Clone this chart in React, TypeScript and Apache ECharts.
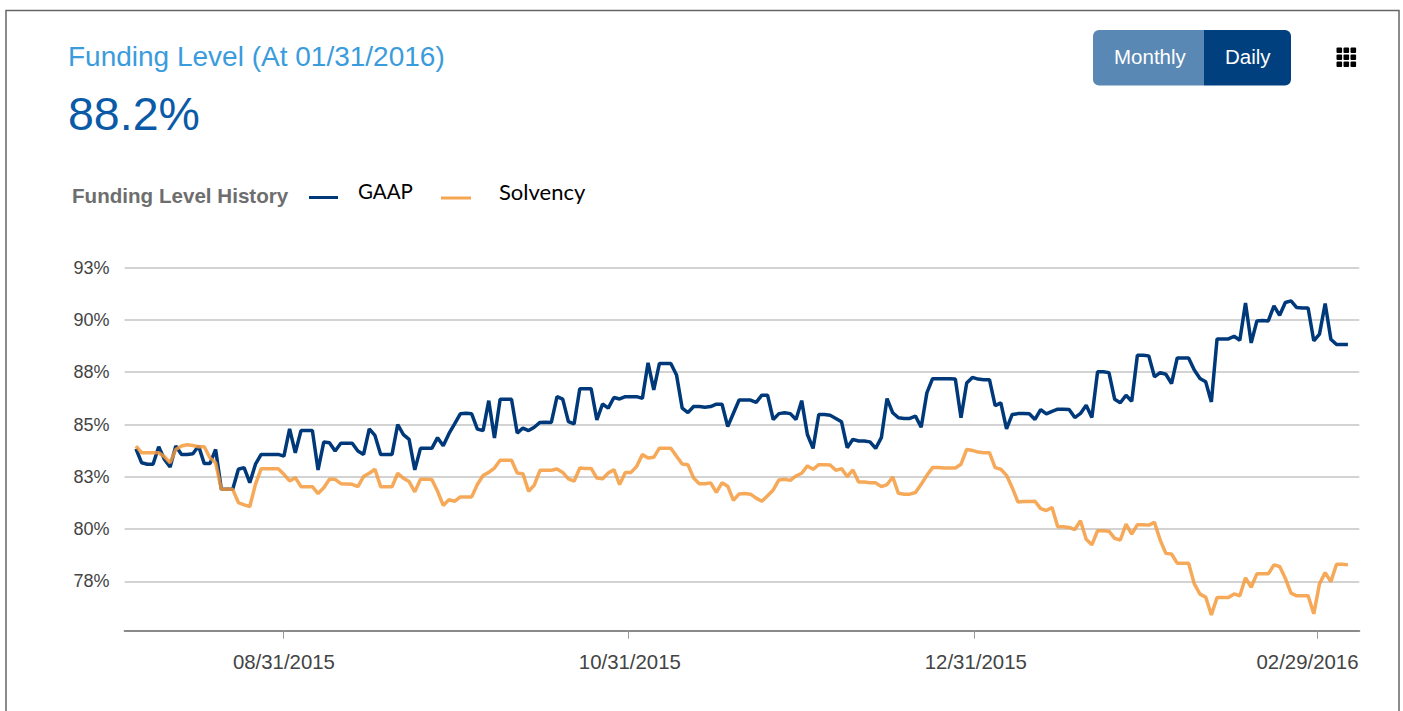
import React, { useEffect, useRef } from "react";
import * as echarts from "echarts";

const tickPositions = [25.8, 86.5, 147.3, 207.6];
const labelPositions = [26.0, 86.8, 147.6, 205.9];
const tickLabels = ["08/31/2015", "10/31/2015", "12/31/2015", "02/29/2016"];
const yTicks = [75, 77.5, 80, 82.5, 85, 87.5, 90, 92.5];

const gaap = [
  83.84, 83.17, 83.1, 83.1, 83.94, 83.33, 82.97, 83.97, 83.57, 83.57, 83.6, 83.97, 83.13, 83.13, 83.81, 81.9, 81.9, 81.9, 82.86, 82.94,
  82.22, 83.1, 83.57, 83.57, 83.57, 83.57, 83.49, 84.79, 83.65, 84.71, 84.71, 84.71, 82.83, 84.16, 84.13, 83.73, 84.1, 84.1, 84.1, 83.73,
  83.57, 84.79, 84.48, 83.57, 83.57, 83.57, 85.0, 84.52, 84.29, 82.83, 83.86, 83.86, 83.86, 84.37, 83.98, 84.56, 85.03, 85.51, 85.54, 85.51,
  84.78, 84.71, 86.14, 84.35, 86.21, 86.21, 86.21, 84.59, 84.83, 84.71, 84.87, 85.1, 85.11, 85.1, 86.33, 86.21, 85.14, 85.03, 86.71, 86.71,
  86.71, 85.22, 85.98, 85.78, 86.29, 86.22, 86.33, 86.33, 86.33, 86.25, 87.95, 86.65, 87.92, 87.92, 87.92, 87.37, 85.78, 85.57, 85.86, 85.86,
  85.83, 85.86, 85.97, 85.97, 84.9, 85.54, 86.17, 86.17, 86.17, 86.06, 86.4, 86.4, 85.24, 85.52, 85.56, 85.52, 85.24, 86.14, 84.52, 83.86,
  85.48, 85.48, 85.44, 85.29, 85.13, 83.89, 84.29, 84.21, 84.21, 84.17, 83.86, 84.37, 86.24, 85.56, 85.32, 85.29, 85.29, 85.4, 84.87, 86.51,
  87.19, 87.19, 87.19, 87.19, 87.17, 85.32, 86.98, 87.25, 87.17, 87.14, 87.14, 85.9, 86.03, 84.79, 85.48, 85.52, 85.52, 85.51, 85.24, 85.71,
  85.51, 85.63, 85.73, 85.73, 85.72, 85.33, 85.53, 85.92, 85.33, 87.52, 87.52, 87.48, 86.21, 86.04, 86.4, 86.11, 88.31, 88.31, 88.28, 87.28,
  87.48, 87.4, 86.96, 88.18, 88.18, 88.18, 87.6, 87.2, 87.04, 86.08, 89.09, 89.09, 89.09, 89.22, 89.03, 90.81, 88.9, 89.95, 89.97, 89.95,
  90.67, 90.22, 90.83, 90.91, 90.59, 90.57, 90.57, 89.0, 89.32, 90.78, 89.08, 88.82, 88.82, 88.82,
];

const solvency = [
  83.97, 83.65, 83.65, 83.65, 83.65, 83.46, 83.17, 83.81, 83.97, 84.03, 84.0, 83.94, 83.94, 83.41, 83.17, 81.9, 81.9, 81.9, 81.27, 81.16,
  81.08, 82.14, 82.89, 82.89, 82.89, 82.89, 82.62, 82.3, 82.46, 82.03, 82.03, 82.03, 81.7, 81.98, 82.38, 82.38, 82.17, 82.16, 82.14, 82.03,
  82.51, 82.67, 82.86, 82.03, 82.02, 82.02, 82.67, 82.43, 82.27, 81.78, 82.38, 82.38, 82.37, 81.81, 81.13, 81.41, 81.33, 81.54, 81.54, 81.54,
  82.13, 82.56, 82.71, 82.92, 83.29, 83.29, 83.29, 82.68, 82.65, 81.81, 82.1, 82.81, 82.81, 82.81, 82.87, 82.71, 82.4, 82.29, 82.92, 82.9,
  82.9, 82.44, 82.4, 82.68, 82.84, 82.13, 82.71, 82.71, 83.0, 83.56, 83.4, 83.43, 83.87, 83.87, 83.87, 83.48, 83.11, 83.08, 82.44, 82.17,
  82.17, 82.21, 81.76, 82.21, 82.05, 81.37, 81.68, 81.7, 81.67, 81.48, 81.33, 81.59, 81.87, 82.35, 82.38, 82.33, 82.54, 82.67, 83.02, 82.86,
  83.08, 83.08, 83.06, 82.81, 82.89, 82.51, 82.83, 82.25, 82.25, 82.22, 82.21, 82.03, 82.13, 82.49, 81.71, 81.67, 81.67, 81.75, 82.14, 82.57,
  82.94, 82.94, 82.92, 82.92, 82.92, 83.1, 83.81, 83.76, 83.68, 83.65, 83.65, 82.94, 82.86, 82.57, 81.98, 81.3, 81.32, 81.32, 81.33, 80.98,
  80.89, 81.03, 80.11, 80.11, 80.08, 79.98, 80.4, 79.51, 79.25, 79.92, 79.92, 79.9, 79.56, 79.48, 80.24, 79.76, 80.21, 80.21, 80.19, 80.32,
  79.48, 78.84, 78.81, 78.37, 78.37, 78.37, 77.38, 76.89, 76.75, 75.9, 76.73, 76.73, 76.73, 76.9, 76.81, 77.67, 77.22, 77.86, 77.86, 77.86,
  78.29, 78.21, 77.65, 76.94, 76.81, 76.81, 76.81, 75.95, 77.38, 77.92, 77.49, 78.32, 78.32, 78.29,
];

const FONT = '"Liberation Sans", Arial, sans-serif';
const iconCols = [0, 1, 2];

const legendText = (left: number, size: number) => ({
  rich: {
    a: {
      color: "#000",
      fontSize: size,
      fontFamily: "Lato, sans-serif",
      padding: [0, 0, 14, left],
    },
  },
});

export default function App() {
  const ref = useRef<HTMLDivElement>(null);
  useEffect(() => {
    if (!ref.current) return;
    const chart = echarts.init(ref.current, undefined, { renderer: "svg" });
    const gridSquares: any[] = [];
    iconCols.forEach((r) =>
      iconCols.forEach((c) =>
        gridSquares.push({
          type: "rect",
          shape: { x: 1336.5 + c * 7, y: 47.5 + r * 7, width: 5.6, height: 5.6, r: 1 },
          style: { fill: "#000" },
        })
      )
    );
    chart.setOption({
      animation: false,
      backgroundColor: "#fff",
      grid: { left: 124.6, width: 1234.7, top: 267.6, height: 366.1, containLabel: false },
      legend: [
        {
          left: 309,
          top: 180,
          padding: 0,
          itemWidth: 29,
          itemHeight: 3,
          icon: "rect",
          data: ["GAAP"],
          formatter: "{a|{name}}",
          textStyle: legendText(15, 20.5),
        },
        {
          left: 441,
          top: 180,
          padding: 0,
          itemWidth: 30,
          itemHeight: 3,
          icon: "rect",
          data: ["Solvency"],
          formatter: "{a|{name}}",
          textStyle: legendText(23, 22),
        },
      ],
      xAxis: {
        type: "value",
        min: -2,
        max: 215,
        offset: -3,
        splitLine: { show: false },
        axisLine: { show: true, onZero: false, lineStyle: { color: "#8a8a8a", width: 2 } },
        axisTick: { show: true, customValues: tickPositions, length: 8, lineStyle: { color: "#999", width: 1 } },
        axisLabel: {
          customValues: labelPositions,
          formatter: (v: number) => tickLabels[labelPositions.indexOf(v)] ?? "",
          color: "#444",
          fontSize: 20.4,
          fontFamily: FONT,
          margin: 21,
          hideOverlap: false,
        },
      },
      yAxis: {
        type: "value",
        min: yTicks[0],
        max: yTicks[yTicks.length - 1],
        interval: 2.5,
        axisLine: { show: false },
        axisTick: { show: false },
        axisLabel: {
          showMinLabel: false,
          formatter: (v: number) => `${Math.round(v)}%`,
          color: "#444",
          fontSize: 18,
          fontFamily: FONT,
          margin: 15,
        },
        splitLine: {
          lineStyle: {
            color: yTicks.map((t, i) => (i === 0 ? "rgba(0,0,0,0)" : "#c4c4c4")),
            width: 1.6,
          },
        },
      },
      series: [
        {
          name: "GAAP",
          type: "line",
          showSymbol: false,
          symbol: "none",
          color: "#00397a",
          lineStyle: { width: 3.5, color: "#00397a" },
          data: gaap.map((v, k) => [k, v]),
        },
        {
          name: "Solvency",
          type: "line",
          showSymbol: false,
          symbol: "none",
          color: "#f6a650",
          lineStyle: { width: 3.5, color: "#f39a3c", opacity: 0.85 },
          data: solvency.map((v, k) => [k, v]),
        },
      ],
      graphic: [
        {
          type: "rect",
          silent: true,
          shape: { x: 6, y: 10.5, width: 1393, height: 760 },
          style: { fill: "none", stroke: "#666", lineWidth: 1.5 },
        },
        {
          type: "text",
          x: 68,
          y: 42,
          style: { text: "Funding Level (At 01/31/2016)", font: `28px ${FONT}`, fill: "#3a9cdc" },
        },
        {
          type: "text",
          x: 68,
          y: 90,
          style: { text: "88.2%", font: `46.5px ${FONT}`, fill: "#0a5aa8" },
        },
        {
          type: "text",
          x: 72,
          y: 184.5,
          style: { text: "Funding Level History", font: `bold 20.6px ${FONT}`, fill: "#6e6e6e" },
        },
        {
          type: "rect",
          shape: { x: 1093, y: 30, width: 111, height: 55.5, r: [6, 0, 0, 6] },
          style: { fill: "#5a88b5" },
        },
        {
          type: "rect",
          shape: { x: 1204, y: 30, width: 87, height: 55.5, r: [0, 6, 6, 0] },
          style: { fill: "#00407f" },
        },
        {
          type: "text",
          x: 1114,
          y: 46,
          style: { text: "Monthly", font: `20.5px ${FONT}`, fill: "#fff" },
        },
        {
          type: "text",
          x: 1225,
          y: 46,
          style: { text: "Daily", font: `20.5px ${FONT}`, fill: "#fff" },
        },
        ...gridSquares,
      ],
    });
    return () => chart.dispose();
  }, []);
  return (
    <div
      ref={ref}
      style={{ position: "absolute", left: 0, top: 0, width: 1403, height: 711, background: "#fff" }}
    />
  );
}
